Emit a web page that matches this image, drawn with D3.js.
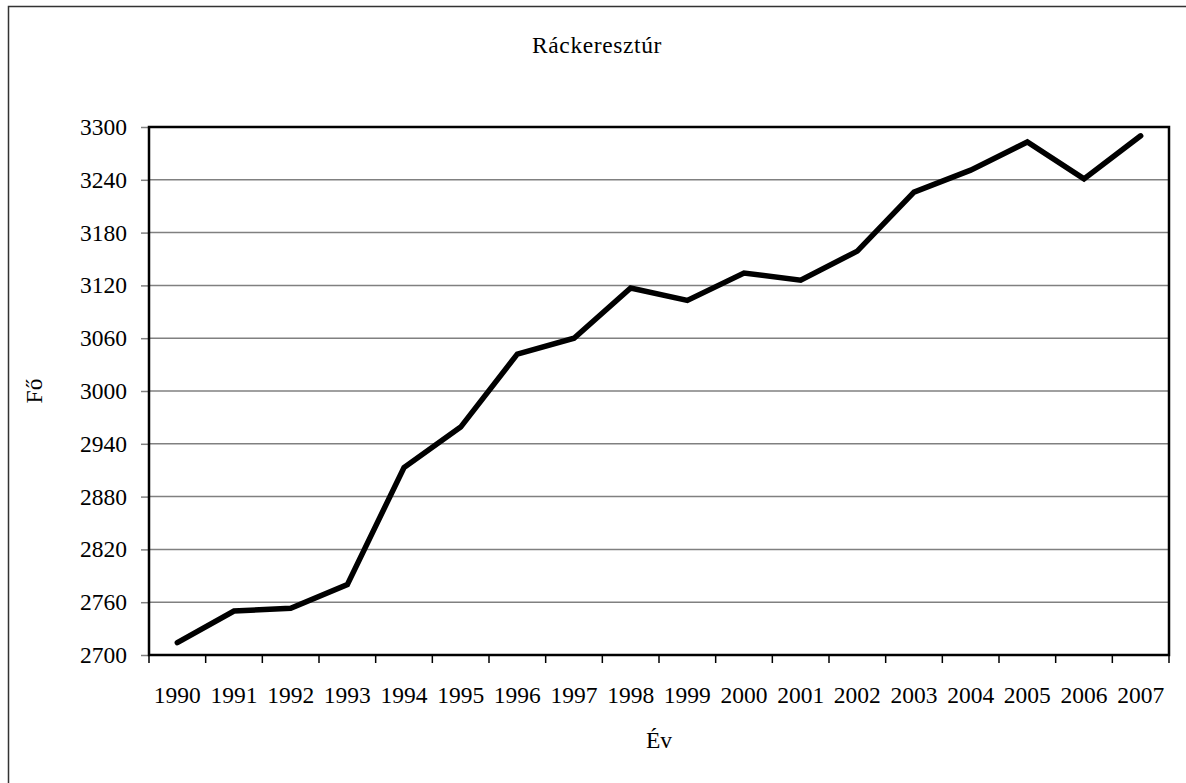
<!DOCTYPE html>
<html>
<head>
<meta charset="utf-8">
<script src="https://cdn.jsdelivr.net/npm/d3@7"></script>
<style>
  html, body { margin: 0; padding: 0; background: #fff; }
  svg { display: block; font-family: "Liberation Serif", "Times New Roman", serif; }
</style>
</head>
<body>
<svg id="chart" width="1186" height="783"></svg>
<script>
  const years = ["1990", "1991", "1992", "1993", "1994", "1995", "1996", "1997", "1998",
    "1999", "2000", "2001", "2002", "2003", "2004", "2005", "2006", "2007"];
  const population = [2714, 2750, 2753, 2780, 2913, 2959, 3042, 3060, 3117,
    3103, 3134, 3126, 3159, 3226, 3251, 3283, 3241, 3290];
  const yTicks = [2700, 2760, 2820, 2880, 2940, 3000, 3060, 3120, 3180, 3240, 3300];

  (function () {
    "use strict";

    const svg = d3.select("#chart");
    const plotLeft = 149, plotTop = 127, plotRight = 1169, plotBottom = 655;
    const serif = "Liberation Serif, Times New Roman, serif";
    const fontSize = 23.5;

    // outer frame (right and bottom edges fall outside the picture)
    svg.append("rect")
      .attr("x", 8.5).attr("y", 6.5)
      .attr("width", 1200).attr("height", 800)
      .attr("fill", "none").attr("stroke", "#333").attr("stroke-width", 1.5);

    const x = d3.scaleBand().domain(years).range([plotLeft, plotRight]).padding(0);
    const y = d3.scaleLinear().domain([2700, 3300]).range([plotBottom, plotTop]);

    // gridlines
    svg.append("g")
      .selectAll("line")
      .data(yTicks.slice(1, -1))
      .join("line")
      .attr("x1", plotLeft).attr("x2", plotRight)
      .attr("y1", (d) => y(d)).attr("y2", (d) => y(d))
      .attr("stroke", "#808080").attr("stroke-width", 1.5);

    // y axis
    const yAxis = svg.append("g")
      .attr("transform", `translate(${plotLeft},0)`)
      .call(d3.axisLeft(y).tickValues(yTicks).tickFormat(d3.format("d")).tickSize(8).tickPadding(14));
    yAxis.select(".domain").remove();
    yAxis.selectAll(".tick line").attr("stroke", "#808080").attr("stroke-width", 1.5);
    yAxis.attr("font-size", fontSize).attr("font-family", serif);
    yAxis.selectAll("text").attr("fill", "#000");

    // x axis
    const xAxis = svg.append("g")
      .attr("transform", `translate(0,${plotBottom})`)
      .call(d3.axisBottom(x).tickSize(0).tickPadding(31));
    xAxis.select(".domain").remove();
    xAxis.attr("font-size", fontSize).attr("font-family", serif);
    xAxis.selectAll("text").attr("fill", "#000");

    // x tick marks at band edges
    svg.append("g")
      .selectAll("line")
      .data(years.concat(["end"]))
      .join("line")
      .attr("x1", (d, i) => plotLeft + i * x.step()).attr("x2", (d, i) => plotLeft + i * x.step())
      .attr("y1", plotBottom).attr("y2", plotBottom + 8)
      .attr("stroke", "#000").attr("stroke-width", 1.5);

    // plot border
    svg.append("rect")
      .attr("x", plotLeft).attr("y", plotTop)
      .attr("width", plotRight - plotLeft).attr("height", plotBottom - plotTop)
      .attr("fill", "none").attr("stroke", "#000").attr("stroke-width", 2.5);

    // data line
    const line = d3.line()
      .x((d, i) => x(years[i]) + x.bandwidth() / 2)
      .y((d) => y(d));
    svg.append("path")
      .datum(population)
      .attr("d", line)
      .attr("fill", "none")
      .attr("stroke", "#000")
      .attr("stroke-width", 5.5)
      .attr("stroke-linejoin", "miter")
      .attr("stroke-linecap", "round");

    // titles
    svg.append("text")
      .attr("x", 597).attr("y", 53)
      .attr("text-anchor", "middle")
      .attr("font-size", fontSize)
      .attr("letter-spacing", 0.6)
      .text("Ráckeresztúr");

    svg.append("text")
      .attr("x", 659).attr("y", 748)
      .attr("text-anchor", "middle")
      .attr("font-size", fontSize)
      .text("Év");

    svg.append("text")
      .attr("transform", "translate(42,391) rotate(-90)")
      .attr("text-anchor", "middle")
      .attr("font-size", fontSize)
      .text("Fő");
  })();
</script>
</body>
</html>
